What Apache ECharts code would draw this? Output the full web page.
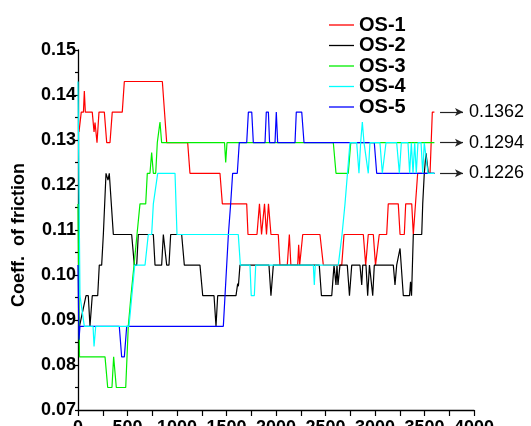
<!DOCTYPE html>
<html>
<head>
<meta charset="utf-8">
<script src="https://cdn.jsdelivr.net/npm/echarts@6/dist/echarts.min.js"></script>
<style>
  html, body { margin: 0; padding: 0; background: #ffffff; }
  #chart { width: 531px; height: 426px; }
</style>
</head>
<body>
<div id="chart"></div>
<script>
// ---- data (x = sliding distance / time units, y = coefficient of friction) ----
var seriesNames = ['OS-1', 'OS-2', 'OS-3', 'OS-4', 'OS-5'];
var seriesColors = ['#ff0000', '#000000', '#00ee00', '#00ffff', '#0000ff'];

var os1 = [[10,0.1318],[33,0.1362],[55,0.1362],[64,0.1409],[74,0.1362],[144,0.1362],[162,0.1318],[172,0.1339],[192,0.1294],[212,0.1362],[266,0.1362],[290,0.1294],[323,0.1294],[346,0.1362],[447,0.1362],[468,0.143],[852,0.143],[896,0.1294],[1108,0.1294],[1131,0.1226],[1434,0.1226],[1458,0.1158],[1704,0.1158],[1717,0.109],[1808,0.109],[1833,0.1158],[1854,0.109],[1884,0.1158],[1904,0.109],[1924,0.1158],[1949,0.109],[2023,0.109],[2040,0.1022],[2114,0.1022],[2135,0.109],[2150,0.1022],[2219,0.1022],[2229,0.1067],[2239,0.1022],[2249,0.1022],[2270,0.109],[2444,0.109],[2478,0.1022],[2664,0.1022],[2687,0.109],[2882,0.109],[2906,0.1022],[2932,0.109],[2983,0.109],[3005,0.1022],[3020,0.1022],[3043,0.109],[3118,0.109],[3134,0.1158],[3235,0.1158],[3253,0.109],[3296,0.109],[3310,0.1158],[3371,0.1158],[3387,0.109],[3397,0.109],[3431,0.1226],[3556,0.1226],[3579,0.1362],[3600,0.1362]];

var os2 = [[15,0.0886],[81,0.0954],[104,0.0954],[121,0.0886],[144,0.0954],[199,0.0954],[215,0.1022],[239,0.1022],[256,0.109],[283,0.1226],[303,0.1211],[316,0.1226],[357,0.109],[542,0.109],[569,0.1022],[593,0.1022],[609,0.109],[761,0.109],[778,0.1022],[845,0.1022],[862,0.109],[879,0.109],[896,0.1022],[919,0.1022],[936,0.109],[1047,0.109],[1074,0.1022],[1232,0.1022],[1260,0.0954],[1374,0.0954],[1394,0.0886],[1411,0.0954],[1596,0.0954],[1613,0.0981],[1620,0.0975],[1636,0.1022],[1929,0.1022],[1949,0.0954],[1973,0.1022],[2437,0.1022],[2459,0.0954],[2563,0.0954],[2586,0.1022],[2606,0.0978],[2616,0.1022],[2626,0.0978],[2646,0.1022],[2720,0.1022],[2742,0.0954],[2765,0.1022],[2848,0.1022],[2866,0.0978],[2876,0.1022],[2909,0.1022],[2926,0.0954],[2944,0.1022],[2960,0.1022],[2977,0.0954],[2993,0.1022],[3185,0.1022],[3202,0.0978],[3219,0.1022],[3236,0.1022],[3253,0.1059],[3286,0.0954],[3349,0.0954],[3359,0.0985],[3369,0.0954],[3387,0.109],[3472,0.109],[3482,0.1158],[3498,0.1226],[3515,0.1271],[3539,0.1226],[3600,0.1226]];

var os3 = [[0,0.1158],[15,0.0818],[273,0.0818],[300,0.075],[343,0.075],[360,0.0818],[370,0.0818],[387,0.075],[482,0.075],[508,0.0886],[535,0.0954],[566,0.1022],[596,0.109],[626,0.1158],[684,0.1158],[700,0.1226],[727,0.1226],[744,0.1272],[761,0.1226],[785,0.1226],[801,0.1294],[813,0.1294],[828,0.134],[845,0.1294],[1480,0.1294],[1492,0.125],[1505,0.1294],[2579,0.1294],[2606,0.1226],[2730,0.1226],[2755,0.1294],[3600,0.1294]];

var os4 = [[0,0.143],[20,0.0954],[30,0.0954],[64,0.0886],[152,0.0886],[162,0.0841],[179,0.0886],[515,0.0886],[573,0.1022],[677,0.1022],[710,0.109],[744,0.109],[761,0.1158],[778,0.1158],[805,0.1226],[980,0.1226],[1000,0.109],[1619,0.109],[1640,0.1022],[1737,0.1022],[1750,0.0954],[1781,0.0954],[1795,0.1022],[2377,0.1022],[2387,0.0978],[2397,0.1022],[2629,0.1022],[2667,0.109],[2697,0.1158],[2722,0.1226],[2747,0.1294],[2815,0.1294],[2838,0.1226],[2855,0.1294],[2872,0.134],[2889,0.1294],[2909,0.1294],[2932,0.1226],[2949,0.1294],[3050,0.1294],[3074,0.1226],[3091,0.1226],[3111,0.1294],[3219,0.1294],[3246,0.1226],[3266,0.1294],[3333,0.1294],[3350,0.1226],[3367,0.1294],[3384,0.1226],[3401,0.1294],[3417,0.1226],[3434,0.1294],[3465,0.1294],[3482,0.1226],[3498,0.1294],[3515,0.1294],[3535,0.1226],[3600,0.1226]];

var os5 = [[0,0.1022],[10,0.0856],[20,0.0886],[417,0.0886],[441,0.0818],[468,0.0818],[492,0.0886],[1468,0.0886],[1519,0.109],[1542,0.1158],[1562,0.1226],[1609,0.1226],[1629,0.1294],[1704,0.1294],[1721,0.1362],[1755,0.1362],[1771,0.1294],[1889,0.1294],[1902,0.1362],[1923,0.1362],[1935,0.1294],[1990,0.1294],[2003,0.1362],[2017,0.1294],[2192,0.1294],[2205,0.1362],[2260,0.1362],[2283,0.1294],[2993,0.1294],[3017,0.1226],[3600,0.1226]];

// annotated final values (arrows at the right)
var finalValues = [0.1362, 0.1294, 0.1226];
var arrowFromX = 3657;
var arrowToX = 3889;

// axis settings
var xMin = 0, xMax = 4000, xStep = 500;
var yMin = 0.07, yMax = 0.15, yStep = 0.01;
var yAxisTitle = 'Coeff.  of friction';

var FONT = '"Liberation Sans", Arial, Helvetica, sans-serif';

var chart = echarts.init(document.getElementById('chart'), null, { renderer: 'canvas' });

var allData = [os1, os2, os3, os4, os5];
// draw order: red, black, green, blue, cyan (cyan over blue)
var drawOrder = [0, 1, 2, 4, 3];

var series = drawOrder.map(function (i) {
  return {
    name: seriesNames[i],
    type: 'line',
    data: allData[i],
    symbol: 'none',
    smooth: false,
    animation: false,
    lineStyle: { color: seriesColors[i], width: 1.2 },
    itemStyle: { color: seriesColors[i] }
  };
});

series.push({
  name: 'annot',
  type: 'line',
  data: [],
  clip: false,
  animation: false,
  markLine: {
    silent: true,
    animation: false,
    symbol: ['none', 'arrow'],
    symbolSize: [6, 8],
    lineStyle: { color: '#222222', width: 1.2, type: 'solid' },
    label: {
      show: true,
      position: 'end',
      distance: 6,
      color: '#000000',
      fontFamily: FONT,
      fontSize: 18,
      formatter: function (p) { return p.name; }
    },
    data: finalValues.map(function (v) {
      return [{ coord: [arrowFromX, v], name: v.toFixed(4) }, { coord: [arrowToX, v] }];
    })
  }
});

var option = {
  backgroundColor: '#ffffff',
  animation: false,
  grid: { left: 78, right: 57, top: 50, bottom: 16, containLabel: false, outerBoundsMode: 'none' },
  legend: {
    data: seriesNames,
    orient: 'vertical',
    left: 324,
    top: 10,
    icon: 'rect',
    itemWidth: 25,
    itemHeight: 1.3,
    itemGap: 0.5,
    textStyle: { fontFamily: FONT, fontSize: 20, fontWeight: 'bold', color: '#000', lineHeight: 20 }
  },
  xAxis: {
    type: 'value',
    min: xMin, max: xMax, interval: xStep,
    axisLine: { show: true, lineStyle: { color: '#000', width: 1.3 } },
    axisTick: { show: true, length: 6, inside: false, lineStyle: { color: '#000', width: 1.2 } },
    minorTick: { show: true, splitNumber: 2, length: 6, lineStyle: { color: '#000', width: 1.2 } },
    splitLine: { show: false },
    axisLabel: {
      margin: 9, color: '#000', fontFamily: FONT, fontSize: 18, fontWeight: 'bold',
      formatter: function (v) { return String(v); }
    }
  },
  yAxis: {
    type: 'value',
    min: yMin, max: yMax, interval: yStep,
    name: yAxisTitle,
    nameLocation: 'middle',
    nameGap: 50,
    nameRotate: 90,
    nameTextStyle: { fontFamily: FONT, fontSize: 18, fontWeight: 'bold', color: '#000', padding: [0, 10, 0, 0] },
    axisLine: { show: true, lineStyle: { color: '#000', width: 1.3 } },
    axisTick: { show: true, length: 3, inside: false, lineStyle: { color: '#000', width: 1.2 } },
    minorTick: { show: true, splitNumber: 2, length: 3, lineStyle: { color: '#000', width: 1.2 } },
    splitLine: { show: false },
    axisLabel: {
      margin: 2, color: '#000', fontFamily: FONT, fontSize: 18, fontWeight: 'bold',
      formatter: function (v) { return v.toFixed(2); }
    }
  },
  series: series
};

chart.setOption(option);
</script>
</body>
</html>
